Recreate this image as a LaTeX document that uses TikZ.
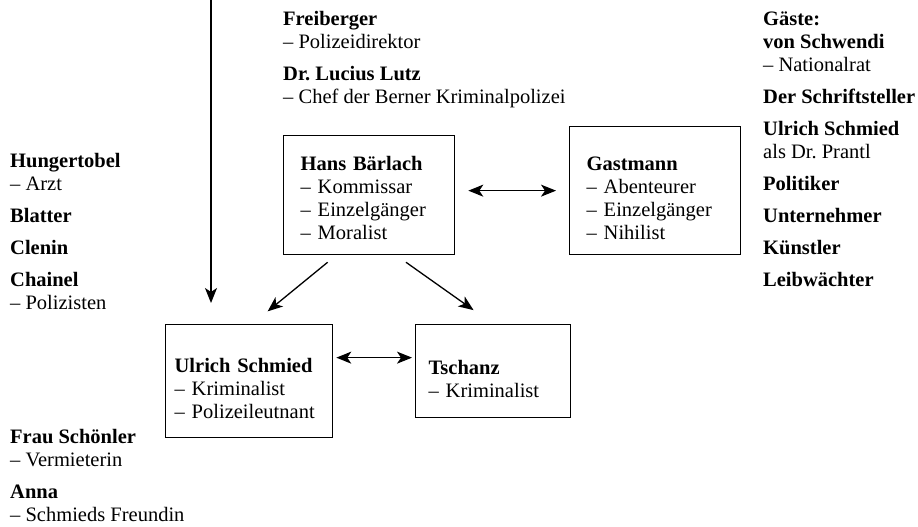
\documentclass[tikz,border=0pt]{standalone}
\usepackage{fontspec}
\setmainfont{Liberation Serif}
\usetikzlibrary{arrows.meta}
\frenchspacing

\begin{document}
\begin{tikzpicture}[>={Stealth[length=15pt,width=12pt,inset=4pt]}, x=1pt, y=-1pt,
	font=\fontsize{20.5}{23}\selectfont,
	figure/.style={rectangle, draw, line width=1.3pt, anchor=north west, align=left, inner ysep=0pt, text height=29pt},
	cast/.style={align=left, anchor=base west, inner sep=0pt},
	link/.style={line width=1.3pt}]

\useasboundingbox (0,0) rectangle (918,527);

% boxes
\node [figure, text width=137pt, inner xsep=17pt, minimum height=119pt, text height=20pt] (baerlach) at (283,135) {\textbf{Hans Bärlach}\\– Kommissar\\– Einzelgänger\\– Moralist};
\node [figure, text width=137pt, inner xsep=17pt, minimum height=128pt] (gastmann) at (569,126) {\textbf{Gastmann}\\– Abenteurer\\– Einzelgänger\\– Nihilist};
\node [figure, text width=149pt, inner xsep=9pt, minimum height=113pt] (ulrich) at (165,324) {\textbf{Ulrich Schmied}\\– Kriminalist\\– Polizeileutnant};
\node [figure, text width=129pt, inner xsep=13pt, minimum height=93pt] (tschanz) at (415,324) {\textbf{Tschanz}\\– Kriminalist};

% lists around (placed at the baseline of their last line)
\node [cast] (chiefs) at (283,103) {\textbf{Freiberger}\\– Polizeidirektor\\[9pt]\textbf{Dr. Lucius Lutz}\\– Chef der Berner Kriminalpolizei};
\node [cast] (police) at (10,309) {\textbf{Hungertobel}\\– Arzt\\[9pt]\textbf{Blatter}\\[9pt]\textbf{Clenin}\\[9pt]\textbf{Chainel}\\– Polizisten};
\node [cast] (private) at (10,521) {\textbf{Frau Schönler}\\– Vermieterin\\[9pt]\textbf{Anna}\\– Schmieds Freundin};
\node [cast] (guests) at (763,286) {\textbf{Gäste:}\\\textbf{von Schwendi}\\– Nationalrat\\[9pt]\textbf{Der Schriftsteller}\\[9pt]\textbf{Ulrich Schmied}\\als Dr. Prantl\\[9pt]\textbf{Politiker}\\[9pt]\textbf{Unternehmer}\\[9pt]\textbf{Künstler}\\[9pt]\textbf{Leibwächter}};

% arrows
\coordinate (source) at (211,0);
\draw [link, ->, shorten >=21pt] (source) -- (source |- ulrich.north);
\draw [link, <->, shorten <=13pt, shorten >=13pt] (baerlach.east |- gastmann.west) -- (gastmann.west);
\draw [link, ->, shorten <=11pt, shorten >=20pt] ([xshift=-33pt]baerlach.south) -- ([xshift=3pt]ulrich.north);
\draw [link, ->, shorten <=12pt, shorten >=24pt] ([xshift=27pt]baerlach.south) -- (tschanz.north);
\draw [link, <->, shorten <=3pt, shorten >=3pt] ([yshift=23.5pt]ulrich.east) -- ([yshift=23.5pt]ulrich.east -| tschanz.west);

\end{tikzpicture}
\end{document}
